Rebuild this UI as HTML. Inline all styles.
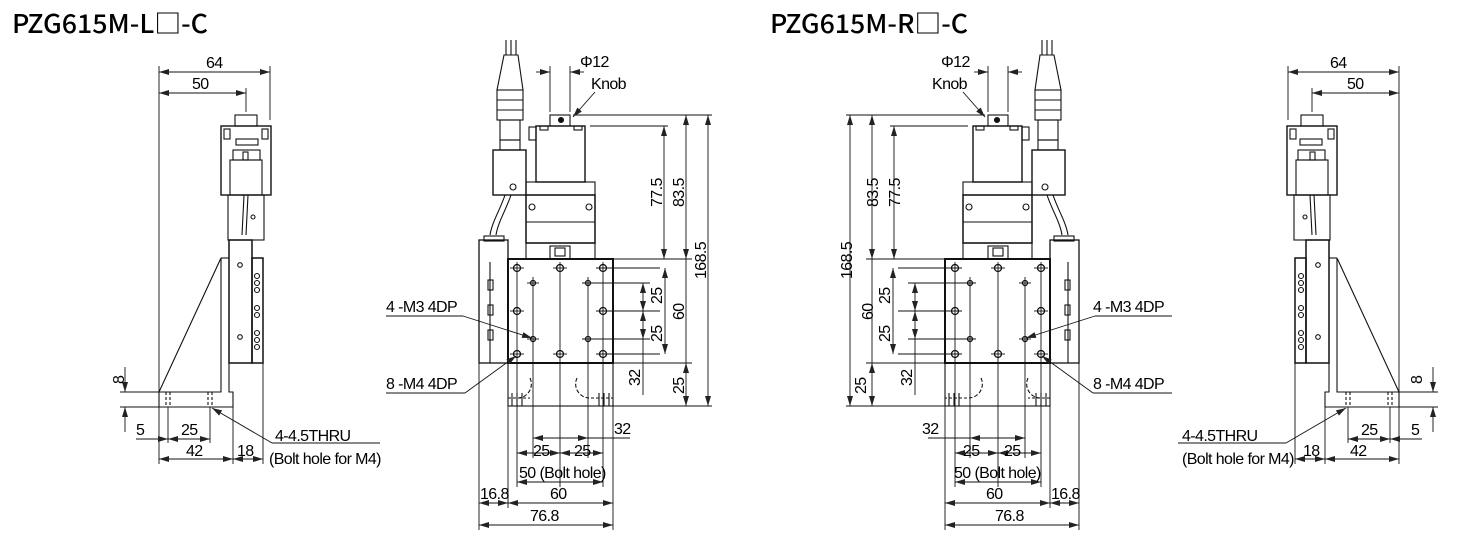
<!DOCTYPE html>
<html><head><meta charset="utf-8">
<style>
html,body{margin:0;padding:0;background:#fff;}
svg{display:block;}
text{font-family:"Liberation Sans","Noto Sans CJK JP",sans-serif;font-size:16px;letter-spacing:-0.6px;fill:#000;}
.t{font-family:"Noto Sans CJK JP","Liberation Sans",sans-serif;font-size:26px;font-weight:500;letter-spacing:0;}
</style></head><body>
<svg width="1460" height="556" viewBox="0 0 1460 556" xmlns="http://www.w3.org/2000/svg">
<defs>
<marker id="a" viewBox="0 0 10 6" refX="10" refY="3" markerWidth="10" markerHeight="6" markerUnits="userSpaceOnUse" orient="auto-start-reverse"><path d="M0,0 L10,3 L0,6 z" fill="#222"/></marker>
<g id="half" fill="none" stroke="#111" stroke-width="1.1">
  <line x1="159" y1="66" x2="159" y2="407" stroke-width="0.9"/>
  <line x1="270" y1="66" x2="270" y2="120" stroke-width="0.9"/>
  <line x1="246" y1="88" x2="246" y2="112" stroke-width="0.9"/>
  <line x1="159" y1="72" x2="270" y2="72" marker-start="url(#a)" marker-end="url(#a)" stroke-width="0.9"/>
  <line x1="159" y1="93" x2="246" y2="93" marker-start="url(#a)" marker-end="url(#a)" stroke-width="0.9"/>
  <rect x="235" y="115" width="22" height="11"/>
  <rect x="221" y="126" width="50" height="69" stroke-width="1.4"/>
  <rect x="224" y="129" width="6" height="10"/><rect x="262" y="129" width="6" height="10"/>
  <rect x="236" y="139" width="22" height="6"/>
  <rect x="233" y="150" width="27" height="10"/>
  <rect x="243" y="152" width="5" height="8"/>
  <rect x="230" y="160" width="32" height="35"/>
  <rect x="228" y="195" width="36" height="45"/>
  <line x1="244" y1="195" x2="242" y2="235"/><line x1="248" y1="195" x2="246" y2="235"/>
  <circle cx="253" cy="217" r="2"/>
  <rect x="229" y="240" width="23" height="123" stroke-width="1.5"/>
  <circle cx="240" cy="265" r="2.3"/><circle cx="240" cy="337" r="2.3"/>
  <rect x="252" y="258" width="11" height="105" stroke-width="1.5"/>
  <circle cx="257" cy="276" r="2.5"/><circle cx="257" cy="283" r="2.5"/><circle cx="257" cy="290" r="2.5"/>
  <circle cx="257" cy="308" r="2.5"/><circle cx="257" cy="315" r="2.5"/>
  <circle cx="257" cy="333" r="2.5"/><circle cx="257" cy="340" r="2.5"/><circle cx="257" cy="347" r="2.5"/>
  <polyline points="221,258 229,258"/>
  <polyline points="229,363 229,392 233,392 233,407 159,407 159,392"/>
  <polyline points="221,258 221,392 159,392"/>
  <line x1="159" y1="392" x2="221" y2="258"/>
  <line x1="166" y1="392" x2="166" y2="407" stroke-dasharray="3,2"/><line x1="170" y1="392" x2="170" y2="407" stroke-dasharray="3,2"/>
  <line x1="208" y1="392" x2="208" y2="407" stroke-dasharray="3,2"/><line x1="212" y1="392" x2="212" y2="407" stroke-dasharray="3,2"/>
  <line x1="120" y1="392" x2="159" y2="392" stroke-width="0.9"/>
  <line x1="120" y1="407" x2="159" y2="407" stroke-width="0.9"/>
  <line x1="125" y1="367" x2="125" y2="392" marker-end="url(#a)" stroke-width="0.9"/>
  <line x1="125" y1="432" x2="125" y2="407" marker-end="url(#a)" stroke-width="0.9"/>
  <line x1="168" y1="407" x2="168" y2="443" stroke-width="0.9"/>
  <line x1="210" y1="407" x2="210" y2="443" stroke-width="0.9"/>
  <line x1="159" y1="407" x2="159" y2="464" stroke-width="0.9"/>
  <line x1="233" y1="407" x2="233" y2="464" stroke-width="0.9"/>
  <line x1="263" y1="363" x2="263" y2="464" stroke-width="0.9"/>
  <line x1="136" y1="439" x2="159" y2="439" stroke-width="0.9"/>
  <line x1="149" y1="439" x2="168" y2="439" marker-end="url(#a)" stroke-width="0.9"/>
  <line x1="168" y1="439" x2="210" y2="439" marker-start="url(#a)" marker-end="url(#a)" stroke-width="0.9"/>
  <line x1="159" y1="459" x2="233" y2="459" marker-start="url(#a)" marker-end="url(#a)" stroke-width="0.9"/>
  <line x1="233" y1="459" x2="263" y2="459" marker-start="url(#a)" marker-end="url(#a)" stroke-width="0.9"/>
  <polyline points="380,443 272,443" stroke-width="0.9"/>
  <line x1="272" y1="443" x2="212" y2="408" marker-end="url(#a)" stroke-width="0.9"/>

  <line x1="511" y1="40" x2="511" y2="55"/>
  <line x1="506" y1="40" x2="506" y2="55"/><line x1="516" y1="40" x2="516" y2="55"/>
  <path d="M504,55 L518,55 L523,90 L497,90 Z"/>
  <rect x="497" y="90" width="26" height="30"/>
  <line x1="497" y1="100" x2="523" y2="100"/><line x1="497" y1="110" x2="523" y2="110"/>
  <rect x="500" y="120" width="20" height="20"/>
  <rect x="500" y="140" width="20" height="10"/>
  <rect x="493" y="150" width="33" height="45" stroke-width="1.4"/>
  <circle cx="513" cy="187" r="3"/>
  <path d="M505,195 C500,210 492,222 490,235 M511,195 C506,210 498,222 496,235"/>
  <rect x="550" y="115" width="20" height="11"/>
  <circle cx="561" cy="120" r="2.5" fill="#111"/>
  <rect x="536" y="126" width="49" height="56" stroke-width="1.4"/>
  <rect x="529" y="127" width="7" height="13"/>
  <rect x="540" y="126" width="8" height="4"/><rect x="574" y="126" width="8" height="4"/>
  <rect x="526" y="182" width="69" height="13"/>
  <rect x="526" y="195" width="69" height="48" stroke-width="1.5"/>
  <circle cx="532" cy="207" r="3"/><circle cx="589" cy="207" r="3"/>
  <line x1="526" y1="222" x2="595" y2="222"/>
  <rect x="526" y="243" width="69" height="16"/>
  <rect x="550" y="246" width="20" height="13"/>
  <rect x="555" y="248" width="10" height="8"/>
  <rect x="479" y="240" width="29" height="123" stroke-width="1.3"/>
  <rect x="484" y="236" width="20" height="5"/>
  <line x1="490" y1="262" x2="490" y2="363"/>
  <rect x="488" y="280" width="5" height="10"/><rect x="488" y="305" width="5" height="10"/><rect x="488" y="330" width="5" height="10"/>
  <rect x="508" y="259" width="105" height="104" stroke-width="2"/>
  <rect x="508" y="363" width="105" height="43"/>
  <path d="M530,378 A14,14 0 0 1 518,398" stroke-dasharray="4,2"/>
  <path d="M577,378 A14,14 0 0 0 589,398" stroke-dasharray="4,2"/>
  <line x1="512" y1="393" x2="512" y2="406"/><line x1="517" y1="393" x2="517" y2="406"/><line x1="522" y1="393" x2="522" y2="406"/>
  <line x1="599" y1="393" x2="599" y2="406"/><line x1="604" y1="393" x2="604" y2="406"/><line x1="609" y1="393" x2="609" y2="406"/>
  <line x1="508" y1="398" x2="530" y2="398" stroke-dasharray="3,2"/><line x1="591" y1="398" x2="613" y2="398" stroke-dasharray="3,2"/>
  <g stroke-width="1.3">
  <circle cx="517" cy="268" r="3.5"/><circle cx="560" cy="268" r="3.5"/><circle cx="603" cy="268" r="3.5"/>
  <circle cx="517" cy="311" r="3.5"/><circle cx="603" cy="311" r="3.5"/>
  <circle cx="517" cy="354" r="3.5"/><circle cx="560" cy="354" r="3.5"/><circle cx="603" cy="354" r="3.5"/>
  <circle cx="533" cy="283" r="2.5"/><circle cx="588" cy="283" r="2.5"/>
  <circle cx="533" cy="339" r="2.5"/><circle cx="588" cy="339" r="2.5"/>
  </g>
  <g stroke-width="0.9">
  <line x1="510" y1="268" x2="524" y2="268"/><line x1="553" y1="268" x2="567" y2="268"/><line x1="596" y1="268" x2="660" y2="268"/>
  <line x1="510" y1="311" x2="524" y2="311"/><line x1="596" y1="311" x2="660" y2="311"/>
  <line x1="510" y1="354" x2="524" y2="354"/><line x1="553" y1="354" x2="567" y2="354"/><line x1="596" y1="354" x2="660" y2="354"/>
  <line x1="527" y1="283" x2="539" y2="283"/><line x1="582" y1="283" x2="650" y2="283"/>
  <line x1="527" y1="339" x2="539" y2="339"/><line x1="582" y1="339" x2="650" y2="339"/>
  <line x1="517" y1="262" x2="517" y2="487"/><line x1="603" y1="262" x2="603" y2="487"/>
  <line x1="560" y1="262" x2="560" y2="487"/>
  <line x1="533" y1="277" x2="533" y2="458"/><line x1="588" y1="277" x2="588" y2="458"/>
  <line x1="508" y1="406" x2="508" y2="508"/><line x1="613" y1="406" x2="613" y2="530"/>
  <line x1="479" y1="363" x2="479" y2="530"/>
  <line x1="550" y1="66" x2="550" y2="112"/><line x1="570" y1="66" x2="570" y2="112"/>
  <line x1="613" y1="259" x2="692" y2="259"/><line x1="613" y1="363" x2="692" y2="363"/>
  <line x1="573" y1="115" x2="712" y2="115"/><line x1="590" y1="126" x2="668" y2="126"/>
  <line x1="613" y1="406" x2="712" y2="406"/>
  <line x1="536" y1="72" x2="550" y2="72" marker-end="url(#a)"/>
  <line x1="584" y1="72" x2="570" y2="72" marker-end="url(#a)"/>
  <line x1="595" y1="92" x2="573" y2="117" marker-end="url(#a)"/>
  <line x1="664" y1="126" x2="664" y2="259" marker-start="url(#a)" marker-end="url(#a)"/>
  <line x1="686" y1="115" x2="686" y2="259" marker-start="url(#a)" marker-end="url(#a)"/>
  <line x1="686" y1="363" x2="686" y2="406" marker-start="url(#a)" marker-end="url(#a)"/>
  <line x1="686" y1="259" x2="686" y2="363"/>
  <line x1="708" y1="115" x2="708" y2="406" marker-start="url(#a)" marker-end="url(#a)"/>
  <line x1="665" y1="268" x2="665" y2="354" marker-start="url(#a)" marker-end="url(#a)"/>
  <line x1="643" y1="283" x2="643" y2="311" marker-start="url(#a)" marker-end="url(#a)"/>
  <line x1="643" y1="311" x2="643" y2="339" marker-start="url(#a)" marker-end="url(#a)"/>
  <line x1="643" y1="339" x2="643" y2="395"/>
  <line x1="533" y1="438" x2="630" y2="438"/>
  <line x1="533" y1="438" x2="540" y2="438" marker-start="url(#a)"/>
  <line x1="588" y1="438" x2="580" y2="438" marker-start="url(#a)"/>
  <line x1="517" y1="453" x2="560" y2="453" marker-start="url(#a)" marker-end="url(#a)"/>
  <line x1="560" y1="453" x2="603" y2="453" marker-start="url(#a)" marker-end="url(#a)"/>
  <line x1="517" y1="482" x2="603" y2="482" marker-start="url(#a)" marker-end="url(#a)"/>
  <line x1="508" y1="503" x2="613" y2="503" marker-start="url(#a)" marker-end="url(#a)"/>
  <line x1="479" y1="503" x2="508" y2="503" marker-start="url(#a)" marker-end="url(#a)"/>
  <line x1="479" y1="525" x2="613" y2="525" marker-start="url(#a)" marker-end="url(#a)"/>
  <line x1="386" y1="316" x2="463" y2="316"/><line x1="463" y1="316" x2="532" y2="338" marker-end="url(#a)"/>
  <line x1="386" y1="393" x2="465" y2="393"/><line x1="465" y1="393" x2="516" y2="356" marker-end="url(#a)"/>
  </g>
</g>
</defs>
<use href="#half"/>
<use href="#half" transform="translate(1558,0) scale(-1,1)"/>

<text class="t" x="12" y="33" textLength="196" lengthAdjust="spacingAndGlyphs">PZG615M-L□-C</text>
<text class="t" x="770" y="33" textLength="198" lengthAdjust="spacingAndGlyphs">PZG615M-R□-C</text>

<text x="206" y="68">64</text>
<text x="192" y="89">50</text>
<text transform="translate(124,384) rotate(-90)">8</text>
<text x="136" y="435">5</text>
<text x="181" y="435">25</text>
<text x="186" y="456">42</text>
<text x="237" y="456">18</text>
<text x="275" y="441">4-4.5THRU</text>
<text x="269" y="464">(Bolt hole for M4)</text>
<text x="580" y="67">Φ12</text>
<text x="591" y="89">Knob</text>
<text transform="translate(662,207) rotate(-90)">77.5</text>
<text transform="translate(684,207) rotate(-90)">83.5</text>
<text transform="translate(706,279) rotate(-90)">168.5</text>
<text transform="translate(662,304) rotate(-90)">25</text>
<text transform="translate(662,342) rotate(-90)">25</text>
<text transform="translate(684,320) rotate(-90)">60</text>
<text transform="translate(640,386) rotate(-90)">32</text>
<text transform="translate(684,394) rotate(-90)">25</text>
<text x="386" y="312">4 -M3 4DP</text>
<text x="386" y="389">8 -M4 4DP</text>
<text x="614" y="434">32</text>
<text x="533" y="456">25</text>
<text x="574" y="456">25</text>
<text x="519" y="478">50 (Bolt hole)</text>
<text x="550" y="499">60</text>
<text x="480" y="499">16.8</text>
<text x="530" y="521">76.8</text>

<text x="1330" y="68">64</text>
<text x="1347" y="89">50</text>
<text transform="translate(1422,384) rotate(-90)">8</text>
<text x="1411" y="435">5</text>
<text x="1361" y="435">25</text>
<text x="1350" y="456">42</text>
<text x="1303" y="456">18</text>
<text x="1182" y="441">4-4.5THRU</text>
<text x="1182" y="464">(Bolt hole for M4)</text>
<text x="941" y="67">Φ12</text>
<text x="932" y="89">Knob</text>
<text transform="translate(900,207) rotate(-90)">77.5</text>
<text transform="translate(878,207) rotate(-90)">83.5</text>
<text transform="translate(852,279) rotate(-90)">168.5</text>
<text transform="translate(890,304) rotate(-90)">25</text>
<text transform="translate(890,342) rotate(-90)">25</text>
<text transform="translate(873,320) rotate(-90)">60</text>
<text transform="translate(912,386) rotate(-90)">32</text>
<text transform="translate(866,394) rotate(-90)">25</text>
<text x="1093" y="312">4 -M3 4DP</text>
<text x="1093" y="389">8 -M4 4DP</text>
<text x="922" y="434">32</text>
<text x="963" y="456">25</text>
<text x="1004" y="456">25</text>
<text x="954" y="478">50 (Bolt hole)</text>
<text x="986" y="499">60</text>
<text x="1051" y="499">16.8</text>
<text x="995" y="521">76.8</text>
</svg>
</body></html>
